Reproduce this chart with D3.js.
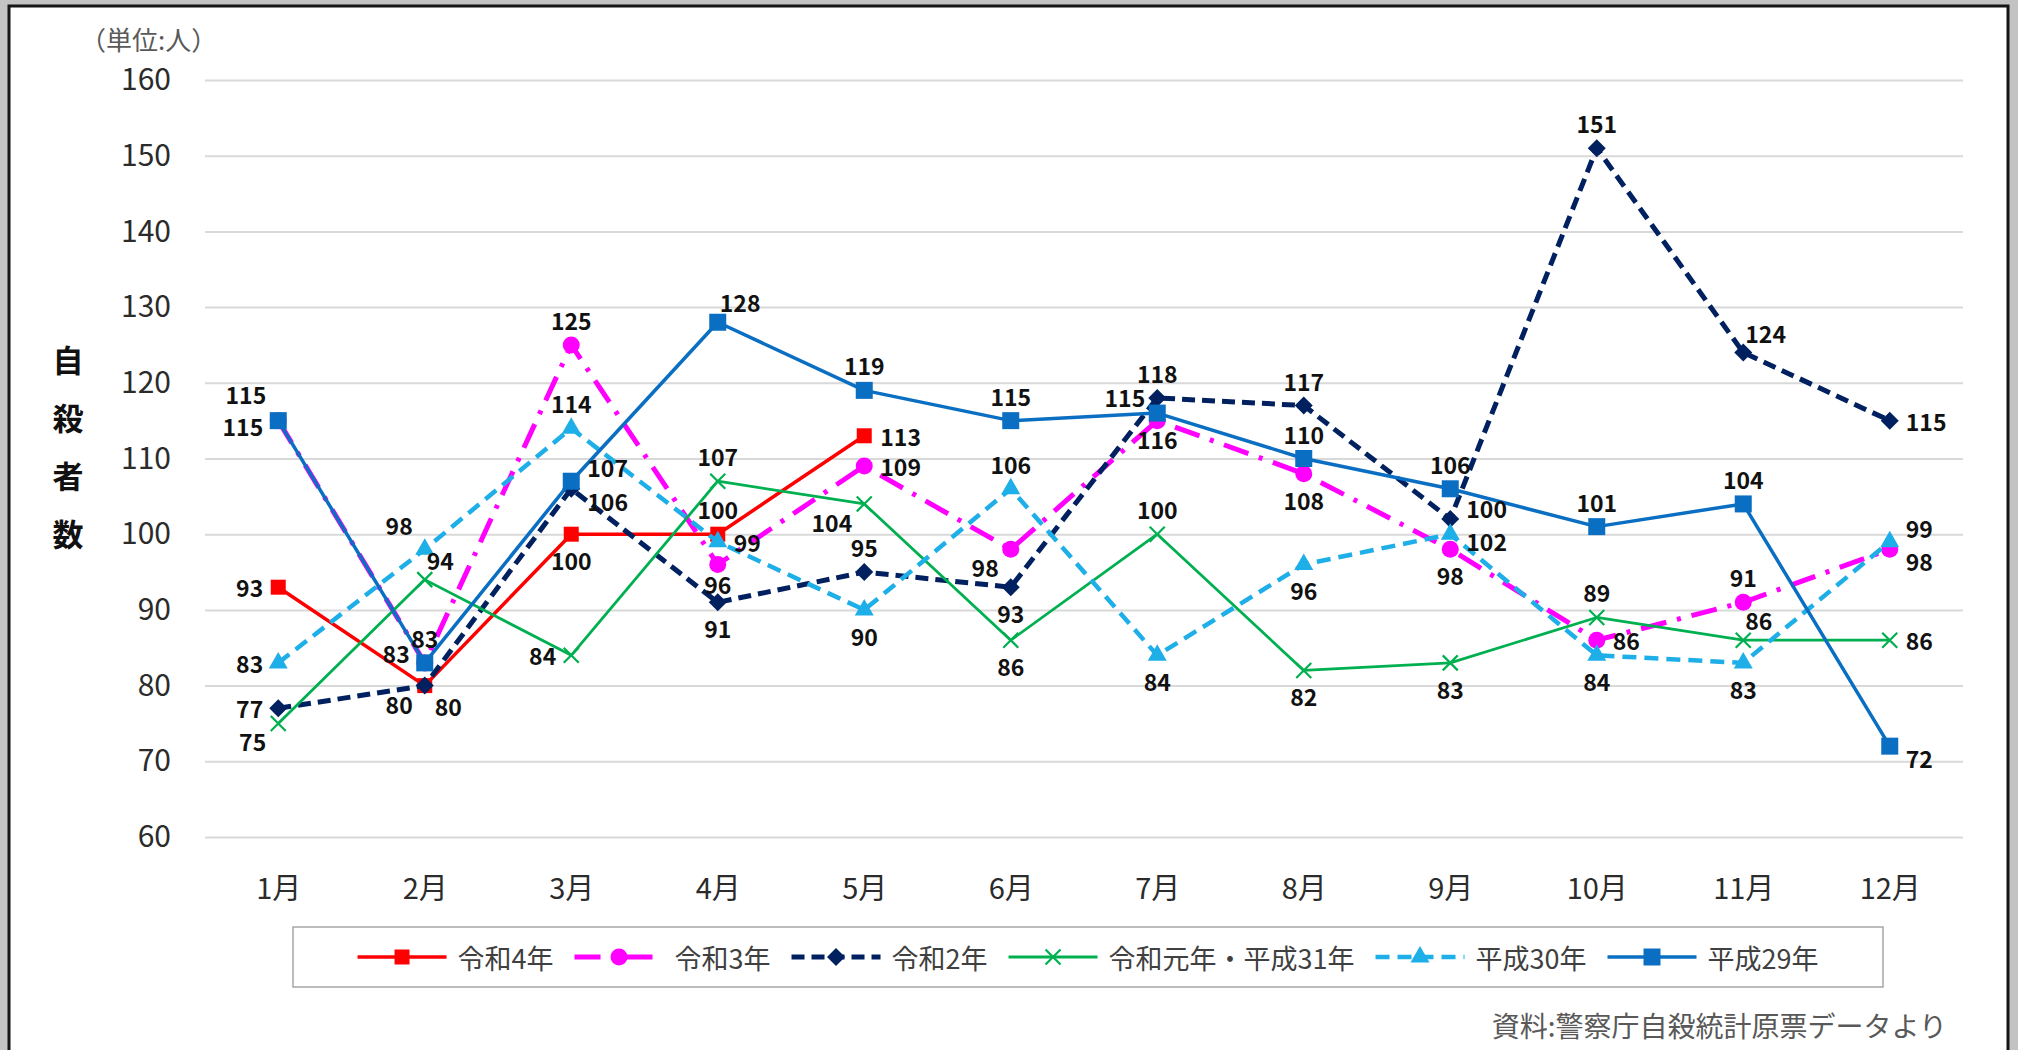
<!DOCTYPE html>
<html lang="ja">
<head>
<meta charset="UTF-8">
<title>月別自殺者数の推移</title>
<script src="https://d3js.org/d3.v7.min.js"></script>
<style>
  body { margin: 0; background: #c3c3c3; }
  svg { display: block; }
  text { font-family: "Noto Sans CJK JP", "Noto Sans", sans-serif; }
</style>
</head>
<body>
<div id="chart"></div>
<script>
// data
const months = ["1月", "2月", "3月", "4月", "5月", "6月", "7月", "8月", "9月", "10月", "11月", "12月"];
const yTicks = [60, 70, 80, 90, 100, 110, 120, 130, 140, 150, 160];
const seriesNames = ["令和4年", "令和3年", "令和2年", "令和元年・平成31年", "平成30年", "平成29年"];

const reiwa4 = [93, 80, 100, 100, 113];
const reiwa3 = [115, 83, 125, 96, 109, 98, 115, 108, 98, 86, 91, 98];
const reiwa2 = [77, 80, 106, 91, 95, 93, 118, 117, 102, 151, 124, 115];
const reiwa1 = [75, 94, 84, 107, 104, 86, 100, 82, 83, 89, 86, 86];
const heisei30 = [83, 98, 114, 99, 90, 106, 84, 96, 100, 84, 83, 99];
const heisei29 = [115, 83, 107, 128, 119, 115, 116, 110, 106, 101, 104, 72];

const allSeries = [reiwa4, reiwa3, reiwa2, reiwa1, heisei30, heisei29];

// look of each series
const styles = [
    { color: "#ff0000", width: 3.5, dash: null, marker: "square", size: 15 },
    { color: "#ff00ff", width: 5, dash: "26,11,4,11", marker: "circle", size: 17 },
    { color: "#002060", width: 5, dash: "13,7", marker: "diamond", size: 18 },
    { color: "#00b050", width: 2.8, dash: null, marker: "cross", size: 15 },
    { color: "#1eaee8", width: 4.5, dash: "14,8", marker: "triangle", size: 19 },
    { color: "#0a6fc2", width: 3.5, dash: null, marker: "square", size: 17 }
];

// where each data label sits relative to its point
const labelPos = [
    ["l", "bl", "b", "t", "r"],
    ["ld", "t", "t", "bs", "r", "bl", "tl", "b", "b", "r", "t", "rd"],
    ["l", "br", "rd", "b", "t", "b", "t", "t", "rdd", "t", "tr", "r"],
    ["bl", "tr", "l", "t", "bl", "b", "t", "b", "b", "t", "tr", "r"],
    ["l", "tl", "t", "r", "b", "t", "b", "b", "ruu", "b", "b", "ru"],
    ["tll", "lu", "ru", "tr", "t", "t", "b", "t", "t", "t", "t", "rd"]
];
const offsets = {
    t: [0, -25, "middle"], b: [0, 26, "middle"], bs: [0, 20, "middle"],
    l: [-15, 0, "end"], r: [16, 0, "start"],
    lu: [-15, -10, "end"], ld: [-15, 5, "end"],
    ru: [16, -14, "start"], rd: [16, 12, "start"],
    ruu: [16, -26, "start"], rdd: [16, 22, "start"],
    tl: [-12, -24, "end"], tll: [-12, -27, "end"], tr: [2, -20, "start"],
    bl: [-12, 18, "end"], br: [10, 20, "start"]
};

const W = 2018, H = 1050;
const svg = d3.select("#chart").append("svg")
    .attr("width", W)
    .attr("height", H);

// white chart area with black frame
svg.append("rect")
    .attr("x", 9).attr("y", 6)
    .attr("width", 1999).attr("height", 1100)
    .attr("fill", "#fff")
    .attr("stroke", "#151515")
    .attr("stroke-width", 3);

const x = d3.scalePoint().domain(months).range([205, 1963]).padding(0.5);
const y = d3.scaleLinear().domain([60, 160]).range([837, 80]);

// y axis with gridlines
const yAxis = svg.append("g")
    .attr("transform", "translate(205,0)")
    .call(d3.axisLeft(y).tickValues(yTicks).tickSize(-(1963 - 205)).tickPadding(34));
yAxis.select(".domain").remove();
yAxis.selectAll(".tick line").attr("stroke", "#d9d9d9").attr("stroke-width", 2);
yAxis.selectAll(".tick text")
    .attr("font-family", "'Noto Sans CJK JP', sans-serif")
    .attr("font-size", 30)
    .attr("fill", "#2b2b2b");

// x axis
const xAxis = svg.append("g")
    .attr("transform", "translate(0,837)")
    .call(d3.axisBottom(x).tickSize(0).tickPadding(41));
xAxis.select(".domain").remove();
xAxis.selectAll(".tick text")
    .attr("font-family", "'Noto Sans CJK JP', sans-serif")
    .attr("font-size", 29)
    .attr("fill", "#2b2b2b");

// unit and axis title
svg.append("text")
    .attr("x", 80).attr("y", 38)
    .attr("dominant-baseline", "central")
    .attr("font-size", 26)
    .attr("fill", "#595959")
    .text("（単位:人）");

const yTitle = svg.append("text")
    .attr("font-size", 31)
    .attr("font-weight", "bold")
    .attr("fill", "#111")
    .attr("text-anchor", "middle");
"自殺者数".split("").forEach((ch, i) => {
    yTitle.append("tspan")
        .attr("x", 68)
        .attr("y", 372 + i * 58)
        .text(ch);
});

// markers
function drawMarker(g, st) {
    const s = st.size;
    if (st.marker === "cross") {
        const h = s / 2;
        g.append("path")
            .attr("d", `M${-h},${-h}L${h},${h}M${-h},${h}L${h},${-h}`)
            .attr("stroke", st.color)
            .attr("stroke-width", 2.2)
            .attr("fill", "none");
        return;
    }
    const types = { square: d3.symbolSquare, circle: d3.symbolCircle, diamond: d3.symbolSquare, triangle: d3.symbolTriangle };
    const areas = { square: s * s, circle: Math.PI * s * s / 4, diamond: s * s / 2, triangle: Math.sqrt(3) / 4 * s * s };
    g.append("path")
        .attr("d", d3.symbol(types[st.marker], areas[st.marker])())
        .attr("fill", st.color)
        .attr("transform", st.marker === "diamond" ? "rotate(45)" : null);
}

const line = d3.line()
    .x((d, i) => x(months[i]))
    .y(d => y(d));

// lines and markers, first series at the bottom
allSeries.forEach((values, k) => {
    const st = styles[k];
    svg.append("path")
        .datum(values)
        .attr("d", line)
        .attr("fill", "none")
        .attr("stroke", st.color)
        .attr("stroke-width", st.width)
        .attr("stroke-dasharray", st.dash)
        .attr("stroke-linejoin", "round");

    values.forEach((v, i) => {
        const g = svg.append("g").attr("transform", `translate(${x(months[i])},${y(v)})`);
        drawMarker(g, st);
    });
});

// data labels
allSeries.forEach((values, k) => {
    values.forEach((v, i) => {
        const o = offsets[labelPos[k][i]];
        svg.append("text")
            .attr("x", x(months[i]) + o[0])
            .attr("y", y(v) + o[1])
            .attr("text-anchor", o[2])
            .attr("dominant-baseline", "central")
            .attr("font-family", "'Noto Sans', sans-serif")
            .attr("font-weight", "bold")
            .attr("font-size", 23)
            .attr("fill", "#111")
            .text(v);
    });
});

// legend
const box = { x: 293, y: 927, w: 1590, h: 60 };
svg.append("rect")
    .attr("x", box.x).attr("y", box.y)
    .attr("width", box.w).attr("height", box.h)
    .attr("fill", "#fff")
    .attr("stroke", "#a6a6a6")
    .attr("stroke-width", 1.5);

const legend = svg.append("g");
const cy = box.y + box.h / 2;
const sampleW = 89;
let cursor = 0;
seriesNames.forEach((name, k) => {
    const st = styles[k];
    const item = legend.append("g");
    item.append("line")
        .attr("x1", 0).attr("x2", sampleW)
        .attr("y1", 0).attr("y2", 0)
        .attr("stroke", st.color)
        .attr("stroke-width", st.width)
        .attr("stroke-dasharray", st.dash);
    const m = item.append("g").attr("transform", `translate(${sampleW / 2},0)`);
    drawMarker(m, st);
    const t = item.append("text")
        .attr("x", sampleW + 11)
        .attr("dominant-baseline", "central")
        .attr("font-size", 27)
        .attr("fill", "#404040")
        .text(name);
    const w = sampleW + 11 + t.node().getComputedTextLength();
    item.attr("transform", `translate(${cursor},${cy})`);
    cursor += w + 21;
});
const total = cursor - 21;
legend.attr("transform", `translate(${box.x + (box.w - total) / 2},0)`);

// source note
svg.append("text")
    .attr("x", 1947).attr("y", 1025)
    .attr("text-anchor", "end")
    .attr("dominant-baseline", "central")
    .attr("font-size", 28)
    .attr("fill", "#595959")
    .text("資料:警察庁自殺統計原票データより");
</script>
</body>
</html>
